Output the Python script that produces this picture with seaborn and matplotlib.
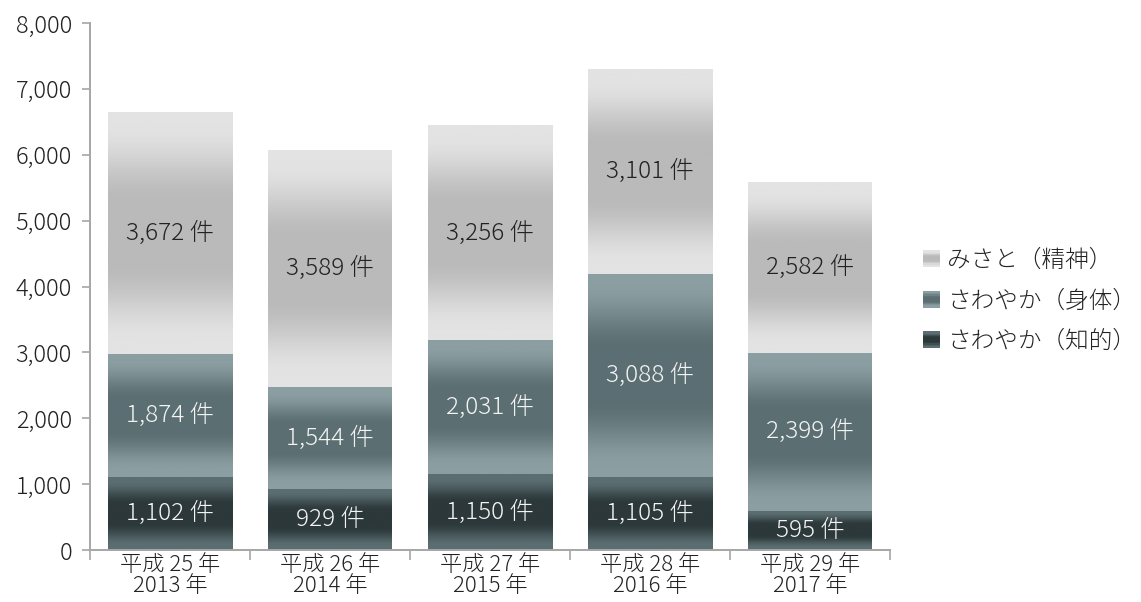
import numpy as np
import pandas as pd
import matplotlib
matplotlib.use("Agg")
import matplotlib.pyplot as plt
import seaborn as sns
from matplotlib.colors import to_rgb
from matplotlib.legend_handler import HandlerBase
from matplotlib.patches import Rectangle
from matplotlib.ticker import FixedLocator
from matplotlib import font_manager

# ---- data ----
years = ["平成 25 年\n2013 年", "平成 26 年\n2014 年", "平成 27 年\n2015 年",
         "平成 28 年\n2016 年", "平成 29 年\n2017 年"]
chiteki = [1102, 929, 1150, 1105, 595]      # さわやか（知的）
shintai = [1874, 1544, 2031, 3088, 2399]    # さわやか（身体）
misato = [3672, 3589, 3256, 3101, 2582]     # みさと（精神）
series_names = ["さわやか（知的）", "さわやか（身体）", "みさと（精神）"]
y_ticks = [0, 1000, 2000, 3000, 4000, 5000, 6000, 7000, 8000]

# ---- styling ----
edge_colors = ["#5b6e72", "#8b9fa3", "#e3e3e3"]
core_colors = ["#2c383a", "#5b6f73", "#bababa"]
label_colors = ["#f4f4f4", "#f4f4f4", "#222222"]
axis_grey = "#a6a6a6"
text_dark = "#222222"

# use a lighter weight of the CJK face when one is installed
weights = {f.weight for f in font_manager.fontManager.ttflist
           if f.name == "Noto Sans CJK JP"}
light = any(w in (300, "light", 350, "demilight") for w in weights)
text_weight = "light" if light else "normal"


def band_colors(edge, core, n=256):
    """Mirrored vertical band: light at both edges, dark in the middle."""
    t = np.linspace(0, 1, n)
    d = np.abs(2 * t - 1)
    w = np.clip((d - 0.25) / 0.65, 0, 1)
    w = w * w * (3 - 2 * w)
    e, c = np.array(to_rgb(edge)), np.array(to_rgb(core))
    return c[None, :] + (e - c)[None, :] * w[:, None]


sns.set_theme(style="white")
plt.rcParams["font.family"] = ["Noto Sans CJK JP", "DejaVu Sans"]
plt.rcParams["font.weight"] = text_weight

fig = plt.figure(figsize=(11.41, 6.02), dpi=100)
ax = fig.add_axes([90 / 1141, 52 / 602, 800 / 1141, 527 / 602])

layers = [chiteki, shintai, misato]
cum = np.cumsum(np.array(layers), axis=0)

# draw cumulative totals, tallest first, then paint each segment with a band
layer_patches = {}
for i in reversed(range(len(layers))):
    n_before = len(ax.patches)
    df = pd.DataFrame({"year": years, "value": cum[i]})
    sns.barplot(data=df, x="year", y="value", color=edge_colors[i],
                width=0.775, saturation=1, errorbar=None, ax=ax)
    layer_patches[i] = ax.patches[n_before:]

for i in range(len(layers)):
    grad = band_colors(edge_colors[i], core_colors[i])[:, None, :]
    for j, p in enumerate(layer_patches[i]):
        x0 = p.get_x()
        x1 = x0 + p.get_width()
        top = p.get_height()
        bottom = layer_patches[i - 1][j].get_height() if i > 0 else 0
        ax.imshow(grad, extent=(x0, x1, bottom, top), aspect="auto",
                  interpolation="bilinear", origin="upper", zorder=3)
        ax.text(x0 + p.get_width() / 2, (bottom + top) / 2,
                f"{layers[i][j]:,} 件", ha="center", va="center",
                fontsize=17.5, color=label_colors[i], zorder=5,
                fontweight=text_weight)

ax.set_xlim(-0.5, len(years) - 0.5)
ax.set_ylim(0, 8000)
ax.set_xlabel("")
ax.set_ylabel("")

# axes appearance
for side in ("top", "right"):
    ax.spines[side].set_visible(False)
for side in ("left", "bottom"):
    ax.spines[side].set_color(axis_grey)
    ax.spines[side].set_linewidth(1.4)
    ax.spines[side].set_zorder(6)

ax.yaxis.set_major_locator(FixedLocator(y_ticks))
ax.set_yticklabels([f"{v:,}" for v in y_ticks], fontweight=text_weight)
ax.tick_params(axis="y", left=True, direction="out", length=6, width=1.2,
               color=axis_grey, labelsize=17, labelcolor=text_dark, pad=7)
ax.set_xticks(range(len(years)))
ax.set_xticklabels(years, linespacing=0.92, fontweight=text_weight)
ax.xaxis.set_minor_locator(FixedLocator(np.arange(-0.5, len(years), 1.0)))
ax.tick_params(axis="x", which="major", bottom=True, length=0,
               labelsize=16, labelcolor=text_dark, pad=3)
ax.tick_params(axis="x", which="minor", bottom=True, direction="out",
               length=7, width=1.2, color=axis_grey)


class BandHandler(HandlerBase):
    def __init__(self, edge, core):
        super().__init__()
        self.cols = band_colors(edge, core, n=14)

    def create_artists(self, legend, orig_handle, xdescent, ydescent,
                       width, height, fontsize, trans):
        n = len(self.cols)
        arts = []
        for k, col in enumerate(self.cols[::-1]):
            r = Rectangle((-xdescent, -ydescent + k * height / n), width,
                          height / n * 1.05, facecolor=col, edgecolor="none",
                          transform=trans)
            arts.append(r)
        return arts


handles = [Rectangle((0, 0), 1, 1) for _ in range(3)]
order = [2, 1, 0]
hmap = {handles[k]: BandHandler(edge_colors[i], core_colors[i])
        for k, i in enumerate(order)}
fig.legend(handles, [series_names[i] for i in order], handler_map=hmap,
           loc="center left", bbox_to_anchor=(923 / 1141, 1 - 301 / 602),
           frameon=False, handlelength=0.72, handleheight=0.72,
           handletextpad=0.3, labelspacing=0.66, labelcolor=text_dark,
           borderaxespad=0, borderpad=0, prop={"weight": text_weight, "size": 17})

fig.savefig("out.png", dpi=100)
